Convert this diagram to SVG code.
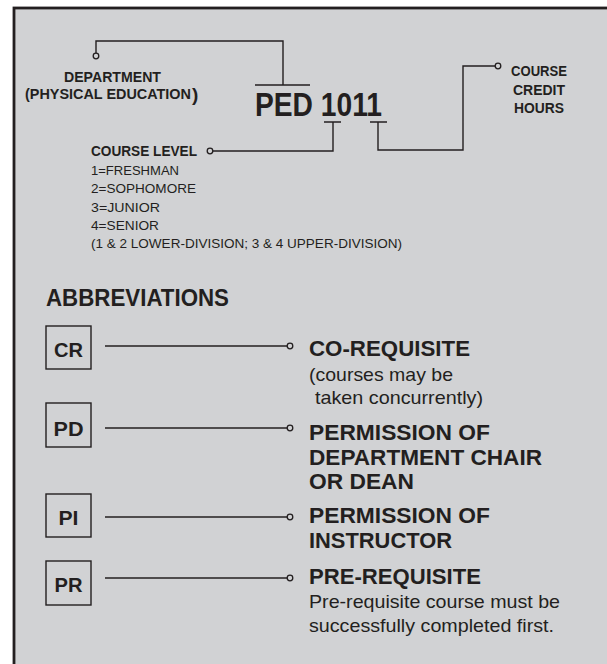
<svg xmlns="http://www.w3.org/2000/svg" width="607" height="664" viewBox="0 0 607 664">
<style>
text{font-family:"Liberation Sans",Arial,sans-serif;fill:#231f20}
.b{font-weight:bold}
.h{font-weight:bold;font-size:21.8px}
.ln{fill:none;stroke:#231f20;stroke-width:1.4}
.dot{fill:#d1d2d4;stroke:#231f20;stroke-width:1.3}
.box{fill:none;stroke:#231f20;stroke-width:1.4}
</style>
<rect x="0" y="0" width="607" height="664" fill="#ffffff"/>
<rect x="14" y="8" width="610" height="680" fill="#d1d2d4" stroke="#231f20" stroke-width="2.8"/>

<g id="connectors">
  <path class="ln" d="M96,53 V41 H283 V85 M255,85 H310"/>
  <path class="ln" d="M324,122 H341 M333,122 V151 H213"/>
  <path class="ln" d="M370,122 H387 M378,122 V150 H463 V66 H495"/>
  <path class="ln" d="M105,346 H287"/>
  <path class="ln" d="M105,428 H287"/>
  <path class="ln" d="M105,517 H287"/>
  <path class="ln" d="M105,578 H287"/>
  <circle class="dot" cx="96" cy="56" r="2.8"/>
  <circle class="dot" cx="210" cy="151" r="2.8"/>
  <circle class="dot" cx="498" cy="66" r="2.8"/>
  <circle class="dot" cx="290" cy="346" r="2.8"/>
  <circle class="dot" cx="290" cy="428" r="2.8"/>
  <circle class="dot" cx="290" cy="517" r="2.8"/>
  <circle class="dot" cx="290" cy="578" r="2.8"/>
</g>

<g id="department">
  <text class="b" x="112.5" y="82" font-size="14" text-anchor="middle" textLength="97" lengthAdjust="spacingAndGlyphs">DEPARTMENT</text>
  <text class="b" x="25" y="99" font-size="14" textLength="166" lengthAdjust="spacingAndGlyphs">(PHYSICAL EDUCATION</text>
  <text class="b" x="192" y="100.5" font-size="19">)</text>
</g>

<g id="course-code">
  <text class="b" x="255" y="116" font-size="33.5" textLength="127" lengthAdjust="spacingAndGlyphs">PED 1011</text>
</g>

<g id="credit-hours">
  <text class="b" x="539" y="76" font-size="14" text-anchor="middle" textLength="56" lengthAdjust="spacingAndGlyphs">COURSE</text>
  <text class="b" x="539" y="95" font-size="14" text-anchor="middle" textLength="52" lengthAdjust="spacingAndGlyphs">CREDIT</text>
  <text class="b" x="539" y="113" font-size="14" text-anchor="middle" textLength="50" lengthAdjust="spacingAndGlyphs">HOURS</text>
</g>

<g id="course-level">
  <text class="b" x="91" y="156" font-size="14" textLength="106" lengthAdjust="spacingAndGlyphs">COURSE LEVEL</text>
  <text x="91" y="175" font-size="13.5" textLength="88" lengthAdjust="spacingAndGlyphs">1=FRESHMAN</text>
  <text x="91" y="193" font-size="13.5" textLength="105" lengthAdjust="spacingAndGlyphs">2=SOPHOMORE</text>
  <text x="91" y="212" font-size="13.5" textLength="69" lengthAdjust="spacingAndGlyphs">3=JUNIOR</text>
  <text x="91" y="230" font-size="13.5" textLength="68" lengthAdjust="spacingAndGlyphs">4=SENIOR</text>
  <text x="91" y="248" font-size="13.5" textLength="311" lengthAdjust="spacingAndGlyphs">(1 &amp; 2 LOWER-DIVISION; 3 &amp; 4 UPPER-DIVISION)</text>
</g>

<g id="abbreviations-title">
  <text class="b" x="46" y="306" font-size="23" textLength="183" lengthAdjust="spacingAndGlyphs">ABBREVIATIONS</text>
</g>

<g id="cr">
  <rect class="box" x="46" y="326" width="45" height="43"/>
  <text class="b" x="68.5" y="357" font-size="20" text-anchor="middle" textLength="29" lengthAdjust="spacingAndGlyphs">CR</text>
  <text class="h" x="309" y="356" textLength="161" lengthAdjust="spacingAndGlyphs">CO-REQUISITE</text>
  <text x="309" y="381" font-size="18.5" textLength="144" lengthAdjust="spacingAndGlyphs">(courses may be</text>
  <text x="315" y="404" font-size="18.5" textLength="168" lengthAdjust="spacingAndGlyphs">taken concurrently)</text>
</g>

<g id="pd">
  <rect class="box" x="46" y="403" width="45" height="44"/>
  <text class="b" x="68.5" y="436" font-size="20" text-anchor="middle" textLength="30" lengthAdjust="spacingAndGlyphs">PD</text>
  <text class="h" x="309" y="440" textLength="181" lengthAdjust="spacingAndGlyphs">PERMISSION OF</text>
  <text class="h" x="309" y="464.5" textLength="233" lengthAdjust="spacingAndGlyphs">DEPARTMENT CHAIR</text>
  <text class="h" x="309" y="489" textLength="105" lengthAdjust="spacingAndGlyphs">OR DEAN</text>
</g>

<g id="pi">
  <rect class="box" x="46" y="494" width="45" height="43"/>
  <text class="b" x="68.5" y="525" font-size="20" text-anchor="middle" textLength="20" lengthAdjust="spacingAndGlyphs">PI</text>
  <text class="h" x="309" y="523" textLength="181" lengthAdjust="spacingAndGlyphs">PERMISSION OF</text>
  <text class="h" x="309" y="548" textLength="143" lengthAdjust="spacingAndGlyphs">INSTRUCTOR</text>
</g>

<g id="pr">
  <rect class="box" x="46" y="561" width="45" height="44"/>
  <text class="b" x="68.5" y="592" font-size="20" text-anchor="middle" textLength="28" lengthAdjust="spacingAndGlyphs">PR</text>
  <text class="h" x="309" y="584" textLength="172" lengthAdjust="spacingAndGlyphs">PRE-REQUISITE</text>
  <text x="309" y="608" font-size="18.5" textLength="251" lengthAdjust="spacingAndGlyphs">Pre-requisite course must be</text>
  <text x="309" y="632" font-size="18.5" textLength="245" lengthAdjust="spacingAndGlyphs">successfully completed first.</text>
</g>
</svg>
